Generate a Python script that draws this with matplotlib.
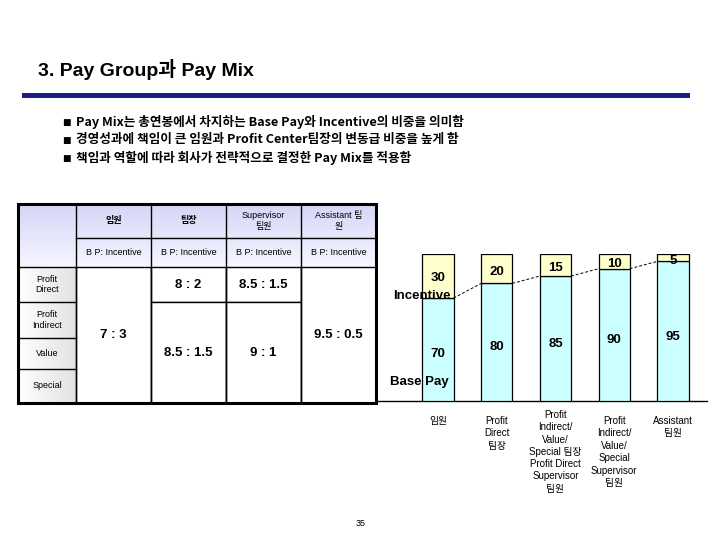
import matplotlib
matplotlib.use("Agg")
import matplotlib.pyplot as plt
from matplotlib.patches import Rectangle
from matplotlib.colors import LinearSegmentedColormap
import numpy as np

plt.rcParams['font.family'] = ['Liberation Sans', 'Noto Sans CJK KR', 'DejaVu Sans']

# ---- data ----
title = "3. Pay Group과 Pay Mix"
bullets = [
    "Pay Mix는 총연봉에서 차지하는 Base Pay와 Incentive의 비중을 의미함",
    "경영성과에 책임이 큰 임원과 Profit Center팀장의 변동급 비중을 높게 함",
    "책임과 역할에 따라 회사가 전략적으로 결정한 Pay Mix를 적용함",
]
table_cols = ["임원", "팀장", "Supervisor\n팀원", "Assistant 팀\n원"]
table_sub = "B P: Incentive"
table_rows = ["Profit\nDirect", "Profit\nIndirect", "Value", "Special"]
# (column index, first row, last row, text)
table_cells = [
    (0, 0, 3, "7 : 3"),
    (1, 0, 0, "8 : 2"),
    (1, 1, 3, "8.5 : 1.5"),
    (2, 0, 0, "8.5 : 1.5"),
    (2, 1, 3, "9 : 1"),
    (3, 0, 3, "9.5 : 0.5"),
]
bar_labels = [
    "임원",
    "Profit\nDirect\n팀장",
    "Profit\nIndirect/\nValue/\nSpecial 팀장",
    "Profit\nIndirect/\nValue/\nSpecial\nSupervisor\n팀원",
    "Assistant\n팀원",
]
bar_labels_extra = {2: "Profit Direct\nSupervisor\n팀원"}
base_pay = [70, 80, 85, 90, 95]
incentive = [30, 20, 15, 10, 5]
page_no = "35"

W, H = 720, 540
fig = plt.figure(figsize=(7.2, 5.4), dpi=100)
bg = fig.add_axes([0, 0, 1, 1])
bg.axis('off')

# title and rule
bg.text(38, 70, title, fontsize=14, fontweight='bold', va='center', ha='left')
bg.add_patch(Rectangle((22, 92.5), 668, 5, color='#1C1C8A', lw=0))

for i, b in enumerate(bullets):
    y = 122 + i * 18
    bg.text(62, y, "■", fontsize=6.5, va='center', ha='left', family=['DejaVu Sans'])
    bg.text(76, y, b, fontsize=9.1, fontweight='bold', va='center', ha='left',
            family=['Noto Sans CJK KR', 'DejaVu Sans'])

# ---- table ----
xs = [18, 76, 151, 226, 301, 376]
ys_head = [204, 238, 267]
ys_rows = [267, 302, 338, 369, 403]

hcmap = LinearSegmentedColormap.from_list('h', ['#D6D6F8', '#F6F6FF'])
gcmap = LinearSegmentedColormap.from_list('g', ['#FFFFFF', '#E2E2E2'])
for xi in range(5):
    x0, x1 = xs[xi], xs[xi + 1]
    grad = np.linspace(0, 1, 50).reshape(-1, 1)
    bg.imshow(grad, extent=(x0, x1, ys_head[2], ys_head[0]), cmap=hcmap, aspect='auto', zorder=1)
for r in range(4):
    grad = np.linspace(0, 1, 50).reshape(1, -1)
    bg.imshow(grad, extent=(xs[0], xs[1], ys_rows[r + 1], ys_rows[r]), cmap=gcmap, aspect='auto', zorder=1)
bg.set_xlim(0, W)
bg.set_ylim(H, 0)

lw = 1.0
for ci, t in enumerate(table_cols):
    cx = (xs[ci + 1] + xs[ci + 2]) / 2
    bg.text(cx, (ys_head[0] + ys_head[1]) / 2, t, fontsize=6.5, ha='center', va='center', zorder=3, linespacing=1.2,
            fontweight='bold' if ci < 2 else 'normal')
    bg.text(cx, (ys_head[1] + ys_head[2]) / 2, table_sub, fontsize=6.5, ha='center', va='center', zorder=3)
    bg.plot([xs[ci + 1], xs[ci + 2]], [ys_head[1]] * 2, color='black', lw=lw, zorder=3)
for r, t in enumerate(table_rows):
    bg.text((xs[0] + xs[1]) / 2, (ys_rows[r] + ys_rows[r + 1]) / 2, t, fontsize=6.5, ha='center', va='center', zorder=3, linespacing=1.2)
    bg.plot([xs[0], xs[1]], [ys_rows[r]] * 2, color='black', lw=lw, zorder=3)
for ci, r0, r1, t in table_cells:
    x0, x1 = xs[ci + 1], xs[ci + 2]
    y0, y1 = ys_rows[r0], ys_rows[r1 + 1]
    bg.add_patch(Rectangle((x0, y0), x1 - x0, y1 - y0, fc='white', ec='black', lw=lw, zorder=2))
    bg.text((x0 + x1) / 2, (y0 + y1) / 2, t, fontsize=9.5, fontweight='bold', ha='center', va='center', zorder=3)
for xv in xs[1:-1]:
    bg.plot([xv, xv], [ys_head[0], ys_rows[-1]], color='black', lw=lw, zorder=3)
bg.add_patch(Rectangle((xs[0], ys_head[0]), xs[-1] - xs[0], ys_rows[-1] - ys_head[0], fc='none', ec='black', lw=2.2, zorder=4))
bg.plot([xs[-1], 707], [401, 401], color='black', lw=1, zorder=1)

bg.text(361, 524, page_no, fontsize=6.5, ha='center', va='center')

# ---- stacked bar chart ----
ax = fig.add_axes([376 / W, (540 - 401) / H, (707 - 376) / W, 147 / H])
ax.patch.set_alpha(0)
n = len(base_pay)
x = np.arange(n)
bw = 0.53
ax.bar(x, base_pay, bw, color='#CCFFFF', edgecolor='black', lw=0.9)
ax.bar(x, incentive, bw, bottom=base_pay, color='#FFFFCC', edgecolor='black', lw=0.9)
ax.set_xlim(-1.055, 4.579)
ax.set_ylim(0, 100)
for s in ['top', 'right', 'left', 'bottom']:
    ax.spines[s].set_visible(False)
ax.set_xticks([])
ax.set_yticks([])

for i in range(n - 1):
    ax.plot([x[i] + bw / 2, x[i + 1] - bw / 2], [base_pay[i], base_pay[i + 1]],
            color='black', lw=0.7, ls=(0, (3, 2)))

for i in range(n):
    if i == 0:
        inc_y = base_pay[i] + 13.5
    else:
        inc_y = base_pay[i] + incentive[i] / 2 - 2
    ax.text(x[i], inc_y, str(incentive[i]), fontsize=9.5, fontweight='bold', ha='center', va='center')
    ax.text(x[i], base_pay[i] * 0.46, str(base_pay[i]), fontsize=9.5, fontweight='bold', ha='center', va='center')
ax.text(x[0] - 0.27, base_pay[0] + 1.5, "Incentive", fontsize=9.5, fontweight='bold', ha='center', va='center')
ax.text(x[0] - 0.31, 13, "Base Pay", fontsize=9.5, fontweight='bold', ha='center', va='center')

for i, lab in enumerate(bar_labels):
    off = -9 if i == 2 else -15
    ax.annotate(lab, (x[i], 0), xytext=(0, off), textcoords='offset pixels',
                fontsize=7, ha='center', va='top', linespacing=1.3)
for i, lab in bar_labels_extra.items():
    ax.annotate(lab, (x[i], 0), xytext=(0, -58), textcoords='offset pixels',
                fontsize=7, ha='center', va='top', linespacing=1.3)

fig.savefig("out.png", dpi=100)
